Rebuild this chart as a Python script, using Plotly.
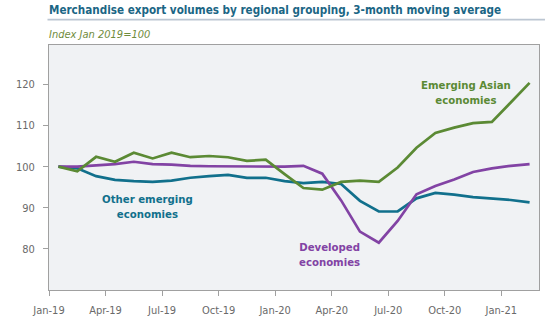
import plotly.graph_objects as go

months = ["Jan-19", "Feb-19", "Mar-19", "Apr-19", "May-19", "Jun-19", "Jul-19", "Aug-19",
          "Sep-19", "Oct-19", "Nov-19", "Dec-19", "Jan-20", "Feb-20", "Mar-20", "Apr-20",
          "May-20", "Jun-20", "Jul-20", "Aug-20", "Sep-20", "Oct-20", "Nov-20", "Dec-20",
          "Jan-21", "Feb-21"]

emerging_asian = [100, 98.9, 102.4, 101.2, 103.4, 102.0, 103.4, 102.3, 102.6, 102.3, 101.4, 101.7,
                  98.2, 94.8, 94.4, 96.3, 96.6, 96.3, 99.8, 104.6, 108.2, 109.5, 110.6, 110.9,
                  115.6, 120.4]
developed = [100, 100.0, 100.3, 100.6, 101.2, 100.6, 100.5, 100.2, 100.1, 100.1, 100.1, 100.1,
             100.0, 100.2, 98.3, 91.8, 84.2, 81.5, 86.8, 93.3, 95.3, 96.9, 98.7, 99.6,
             100.2, 100.6]
other_emerging = [100, 99.6, 97.7, 96.8, 96.5, 96.3, 96.6, 97.3, 97.7, 98.0, 97.3, 97.3,
                  96.5, 96.0, 96.3, 95.8, 91.7, 89.1, 89.1, 92.3, 93.6, 93.2, 92.6, 92.3,
                  91.9, 91.3]

tick_labels = ["Jan-19", "Apr-19", "Jul-19", "Oct-19", "Jan-20", "Apr-20", "Jul-20", "Oct-20", "Jan-21"]
y_ticks = [80, 90, 100, 110, 120]

GREEN = "#5b8a34"
PURPLE = "#8243a4"
TEAL = "#11708c"
TITLE_C = "#1b6685"
GREY_TXT = "#6a6a6a"
AXIS_C = "#a0a0a0"
FONT = "DejaVu Sans Condensed, Roboto, sans-serif"

W, H = 554, 321
L, R, T, B = 48.5, 15, 45, 30.5
pw = W - L - R
ph = H - T - B

def px_x(x):
    return (x - L) / pw

def px_y(y):
    return 1 - (y - T) / ph

x_idx = list(range(len(months)))

fig = go.Figure()
for vals, col, name in [(other_emerging, TEAL, "Other emerging economies"),
                        (developed, PURPLE, "Developed economies"),
                        (emerging_asian, GREEN, "Emerging Asian economies")]:
    fig.add_trace(go.Scatter(x=x_idx, y=vals, mode="lines", name=name,
                             line=dict(color=col, width=2.7),
                             customdata=months,
                             hovertemplate="%{customdata}: %{y}<extra></extra>"))

tick_pos = [months.index(t) - 0.5 for t in tick_labels]

fig.update_layout(
    width=W, height=H,
    margin=dict(l=L, r=R, t=T, b=B, pad=0, autoexpand=False),
    paper_bgcolor="white",
    plot_bgcolor="#f0f2f4",
    showlegend=False,
    font=dict(family=FONT, color=GREY_TXT, size=11),
    xaxis=dict(range=[-0.5, len(months) - 0.5], tickvals=tick_pos, ticktext=tick_labels,
               automargin=False,
               showgrid=False, zeroline=False, showline=True, linecolor=AXIS_C, linewidth=1,
               mirror=True, ticks="outside", ticklen=5, tickcolor=AXIS_C,
               ticklabelstandoff=5,
               tickfont=dict(size=11, color=GREY_TXT, family=FONT)),
    yaxis=dict(range=[70, 129.6], tickvals=y_ticks,
               automargin=False,
               showgrid=False, zeroline=False, showline=True, linecolor=AXIS_C, linewidth=1,
               mirror=True, ticks="outside", ticklen=5, tickcolor=AXIS_C,
               ticklabelstandoff=6,
               tickfont=dict(size=11, color=GREY_TXT, family=FONT)),
)

# Title, underline and subtitle
fig.add_annotation(text="<b>Merchandise export volumes by regional grouping, 3-month moving average</b>",
                   xref="paper", yref="paper", x=px_x(46), y=px_y(10), xanchor="left", yanchor="middle",
                   showarrow=False, font=dict(size=11.6, color=TITLE_C, family=FONT))
fig.add_shape(type="line", xref="paper", yref="paper", x0=px_x(47), x1=px_x(545),
              y0=px_y(19.5), y1=px_y(19.5), line=dict(color="#bcc6d2", width=1.8))
fig.add_annotation(text="<i>Index Jan 2019=100</i>",
                   xref="paper", yref="paper", x=px_x(46), y=px_y(34), xanchor="left", yanchor="middle",
                   showarrow=False, font=dict(size=11, color="#6f8c3c", family=FONT))

# Series labels
for txt, col, cx, cy in [("<b>Emerging Asian<br>economies</b>", GREEN, 466, 93),
                         ("<b>Other emerging<br>economies</b>", TEAL, 147.5, 207),
                         ("<b>Developed<br>economies</b>", PURPLE, 329, 255)]:
    fig.add_annotation(text=txt, xref="paper", yref="paper", x=px_x(cx), y=px_y(cy),
                       xanchor="center", yanchor="middle", showarrow=False, align="center",
                       font=dict(size=11.3, color=col, family=FONT))

fig.write_html("out.html")
